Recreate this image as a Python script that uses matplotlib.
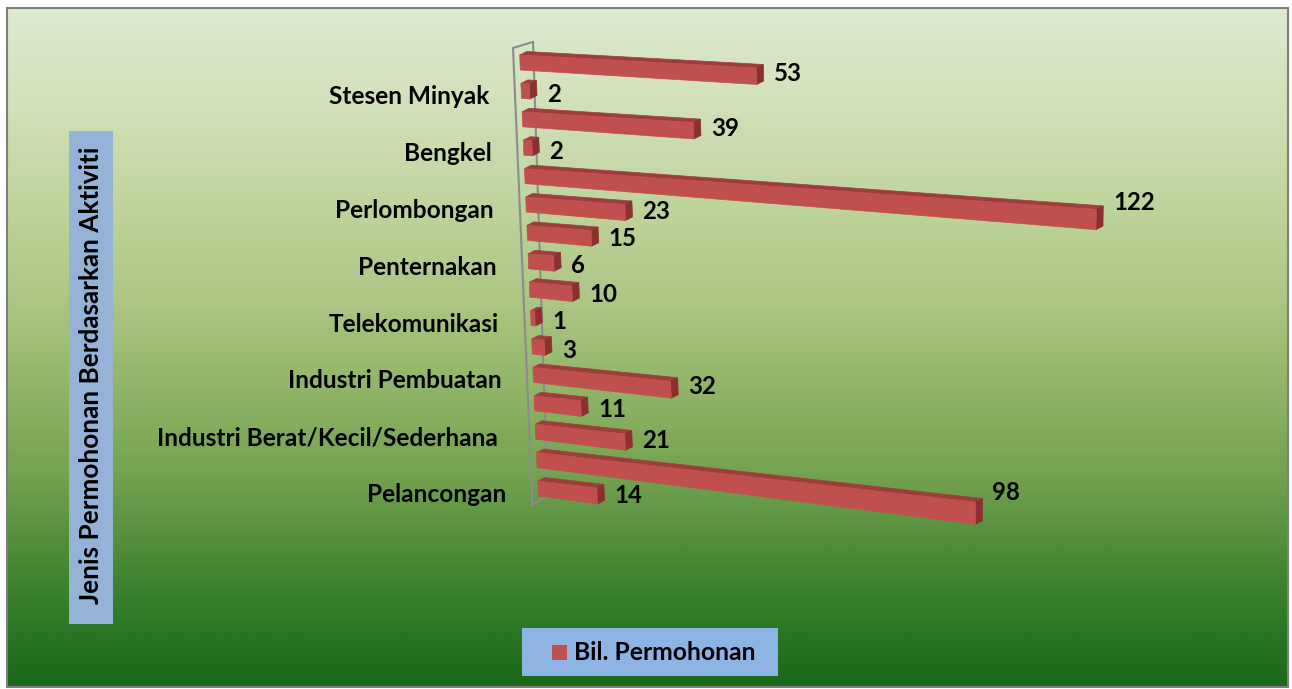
import numpy as np
import matplotlib
matplotlib.use("Agg")
import matplotlib.pyplot as plt
from matplotlib import transforms as mtransforms
from matplotlib.patches import Polygon, Rectangle
from matplotlib.colors import LinearSegmentedColormap

plt.rcParams['font.family'] = ['Lato', 'DejaVu Sans']

# data (top to bottom as drawn)
values = [53, 2, 39, 2, 122, 23, 15, 6, 10, 1, 3, 32, 11, 21, 98, 14]
labels = ['Stesen Minyak', 'Bengkel', 'Perlombongan', 'Penternakan',
          'Telekomunikasi', 'Industri Pembuatan',
          'Industri Berat/Kecil/Sederhana ', 'Pelancongan']
label_rows = [1, 3, 5, 7, 9, 11, 13, 15]
series_name = 'Bil. Permohonan'
axis_title = 'Jenis Permohonan Berdasarkan Aktiviti'

W, H = 1292, 689
FRONT = '#C0504D'
TOP = '#9E3E3C'
END = '#8A302E'
DEPTH = np.array([7.0, -3.5])


class BarProjection(mtransforms.Transform):
    """Fake 3D perspective: (value, row) -> pixel position."""
    input_dims = output_dims = 2
    is_separable = False
    has_inverse = False

    def transform_non_affine(self, pts):
        pts = np.asarray(pts, dtype=float)
        v, r = pts[:, 0], pts[:, 1]
        x0 = 520 + 1.2 * r
        dx = v * (4.25 - 0.004 * r + (0.004 - 0.00008 * r) * v)
        y = 62.5 + 28.4 * r + (0.058 + 0.0045 * r) * dx
        return np.column_stack([x0 + dx, y])


proj = BarProjection()

fig = plt.figure(figsize=(W / 100, H / 100), dpi=100)
ax = fig.add_axes([0, 0, 1, 1])

# background gradient
stops = [(0.0, (221, 233, 207)), (0.14, (210, 225, 185)), (0.28, (192, 213, 158)),
         (0.43, (172, 198, 132)), (0.58, (140, 178, 100)), (0.70, (112, 160, 78)),
         (0.81, (75, 138, 55)), (0.90, (48, 122, 40)), (1.0, (26, 104, 26))]
cmap = LinearSegmentedColormap.from_list(
    'bg', [(p, tuple(c / 255 for c in col)) for p, col in stops])
grad = cmap(np.linspace(0, 1, 400))[:, None, :]
ax.imshow(grad, extent=(7, 1288, 687, 8), aspect='auto', zorder=0)
ax.add_patch(Rectangle((7, 8), 1281, 679, fill=False, ec='#7f7f7f', lw=1.5, zorder=1))

# floor wall outline
wf = proj.transform([(-1.5, -0.5), (-1.5, 15.6)])
wall = np.vstack([wf[0], wf[1], wf[1] + (15, -9), wf[0] + (20, -6)])
ax.add_patch(Polygon(wall, closed=True, fill=False, ec='#8c8c8c', lw=1.5, zorder=2))

# bars
for i, v in enumerate(values):
    h0 = 0.264
    he = h0 * (1 + (0.0012 + 0.0002 * i) * v)
    front = proj.transform([(0, i - h0), (v, i - he), (v, i + he), (0, i + h0)])
    top = np.vstack([front[0], front[1], front[1] + DEPTH, front[0] + DEPTH])
    end = np.vstack([front[1], front[2], front[2] + DEPTH, front[1] + DEPTH])
    ax.add_patch(Polygon(top, closed=True, fc=TOP, ec=TOP, lw=0.5, zorder=3))
    ax.add_patch(Polygon(end, closed=True, fc=END, ec=END, lw=0.5, zorder=3))
    ax.add_patch(Polygon(front, closed=True, fc=FRONT, ec=FRONT, lw=0.5, zorder=4))

    # value label
    start = proj.transform([(0, i)])[0]
    tip = proj.transform([(v, i)])[0]
    ax.text(tip[0] + DEPTH[0] + 10, start[1] + 0.55 * (tip[1] - start[1]) + 3, str(v),
            ha='left', va='center', fontsize=17.3, fontweight='bold', color='black', zorder=5)

# category labels
for lab, r in zip(labels, label_rows):
    p = proj.transform([(0, r)])[0]
    ax.text(p[0] - 32, p[1] + 6, lab, ha='right', va='center',
            fontsize=17.6, fontweight='bold', color='black', zorder=5)

# axis title box
ax.add_patch(Rectangle((69, 131), 44, 493, fc='#95B3D7', ec='none', zorder=2))
ax.text(91, 375, axis_title, rotation=90, ha='center', va='center',
        fontsize=18.8, fontweight='bold', color='black', zorder=5)

# legend box
ax.add_patch(Rectangle((522, 628), 256, 48, fc='#8DB4E2', ec='none', zorder=2))
ax.add_patch(Rectangle((552, 645), 15, 15, fc=FRONT, ec='none', zorder=3))
ax.text(574, 652, series_name, ha='left', va='center',
        fontsize=17.8, fontweight='bold', color='black', zorder=5)

ax.set_xlim(0, W)
ax.set_ylim(H, 0)
ax.axis('off')

fig.savefig('out.png', dpi=100, facecolor='white')
